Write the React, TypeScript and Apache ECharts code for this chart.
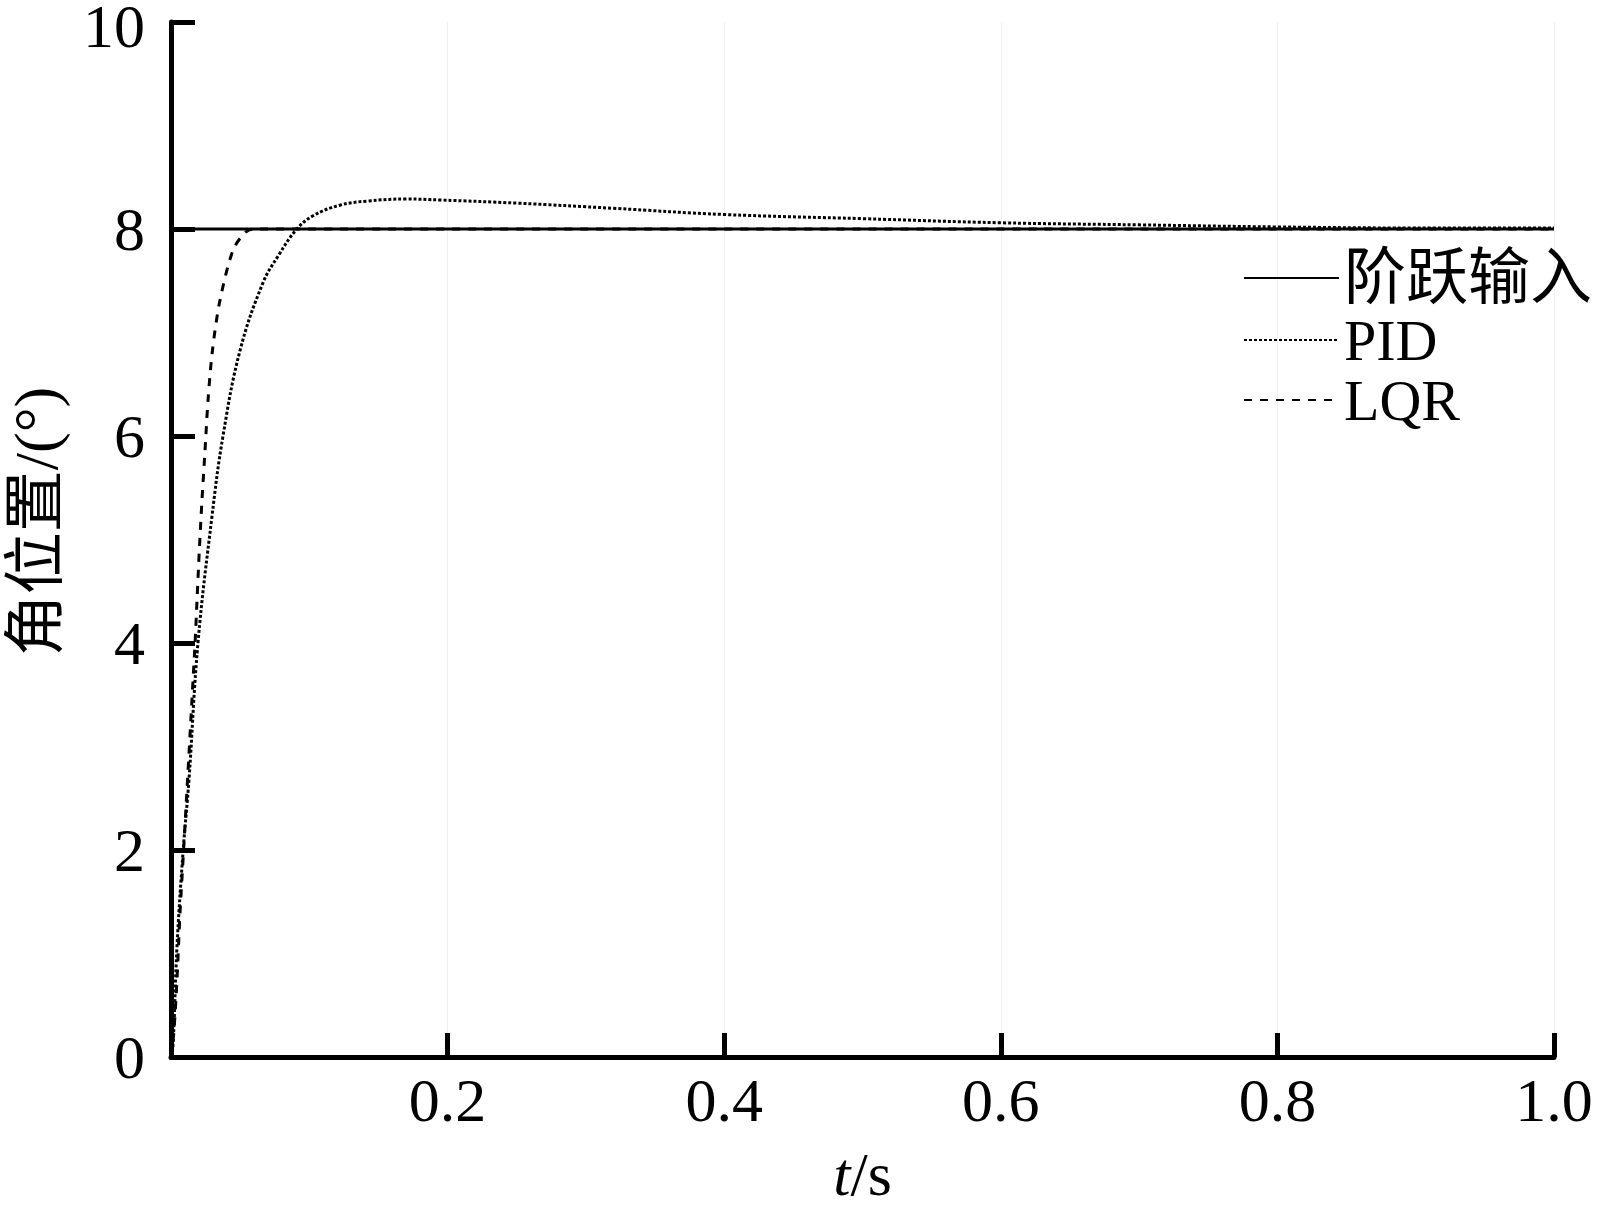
import React, { useEffect, useRef } from "react";
import * as echarts from "echarts";

const xTicks = [0, 0.2, 0.4, 0.6, 0.8, 1.0];
const yTicks = [0, 2, 4, 6, 8, 10];

const seriesNames = ["阶跃输入", "PID", "LQR"];

const stepT = [0, 1.0];
const stepV = [8, 8];

const pidT = [0, 0.0014, 0.0043, 0.0087, 0.013, 0.0195, 0.0296, 0.0376, 0.05, 0.0665, 0.078, 0.091, 0.103, 0.122, 0.142, 0.17, 0.195, 0.25, 0.32, 0.4, 0.5, 0.6, 0.7, 0.8, 0.9, 1.0];
const pidV = [0, 0.1, 1.06, 1.98, 2.68, 4.0, 5.22, 6.0, 6.83, 7.48, 7.75, 8.0, 8.13, 8.23, 8.27, 8.29, 8.28, 8.25, 8.2, 8.14, 8.1, 8.06, 8.04, 8.02, 8.01, 8.01];

const lqrT = [0, 0.002, 0.0043, 0.0065, 0.0087, 0.0174, 0.0188, 0.0205, 0.0224, 0.0246, 0.0268, 0.03, 0.0354, 0.045, 0.054, 0.06, 1.0];
const lqrV = [0, 0.23, 0.74, 1.39, 1.9, 4.0, 4.41, 4.9, 5.38, 5.86, 6.35, 6.83, 7.31, 7.8, 7.97, 8.0, 8.0];

const zip = (a: number[], b: number[]) => a.map((t, i) => [t, b[i]]);

const SERIF = '"Liberation Serif", "Times New Roman", "Noto Sans CJK SC", serif';

export default function App() {
  const ref = useRef<HTMLDivElement>(null);
  useEffect(() => {
    if (!ref.current) return;
    const chart = echarts.init(ref.current, null, { renderer: "svg" });
    const yMax = yTicks[yTicks.length - 1];
    chart.setOption({
      animation: false,
      backgroundColor: "#ffffff",
      grid: { left: 171, right: 53, top: 22, bottom: 156, containLabel: false, outerBoundsMode: "none" },
      legend: {
        orient: "vertical",
        left: 1243,
        top: 247,
        padding: 0,
        itemGap: 2,
        itemWidth: 95,
        itemHeight: 20,
        data: seriesNames,
        itemStyle: { opacity: 0 },
        formatter: (name: string) => (/[\u4e00-\u9fff]/.test(name) ? `{cjk|${name}}` : `{lat|${name}}`),
        textStyle: {
          color: "#000",
          rich: {
            cjk: { fontSize: 62, lineHeight: 60, fontFamily: SERIF, color: "#000" },
            lat: { fontSize: 58, lineHeight: 58, fontFamily: SERIF, color: "#000" },
          },
        },
      },
      xAxis: {
        type: "value",
        min: xTicks[0],
        max: xTicks[xTicks.length - 1],
        interval: 0.2,
        name: "{i|t}{n|/s}",
        nameLocation: "middle",
        nameGap: 86,
        nameTextStyle: {
          rich: {
            i: { fontSize: 62, fontStyle: "italic", fontFamily: SERIF, color: "#000" },
            n: { fontSize: 62, fontFamily: SERIF, color: "#000" },
          },
        },
        axisLine: { show: true, lineStyle: { color: "#000", width: 5 } },
        axisTick: { show: true, inside: true, length: 24, lineStyle: { color: "#000", width: 5 } },
        axisLabel: {
          showMinLabel: false,
          margin: 12,
          fontSize: 62,
          fontFamily: SERIF,
          color: "#000",
          formatter: (v: number) => v.toFixed(1),
        },
        splitLine: { show: true, lineStyle: { color: "#f1f1f1", width: 1 } },
      },
      yAxis: {
        type: "value",
        min: yTicks[0],
        max: yMax,
        interval: 2,
        name: "角位置/(°)",
        nameLocation: "middle",
        nameGap: 104,
        nameRotate: 90,
        nameTextStyle: { fontSize: 62, fontFamily: SERIF, color: "#000", padding: [0, 0, 0, 36] },
        axisLine: { show: true, lineStyle: { color: "#000", width: 5 } },
        axisTick: { show: true, inside: true, length: 24, lineStyle: { color: "#000", width: 5 } },
        axisLabel: {
          margin: 26,
          fontSize: 62,
          fontFamily: SERIF,
          color: "#000",
          formatter: (v: number) => (v === yMax ? `{top|${v}}` : `${v}`),
          rich: {
            top: { fontSize: 62, lineHeight: 40, fontFamily: SERIF, color: "#000", padding: [8, 0, 0, 0] },
          },
        },
        splitLine: { show: false },
      },
      series: [
        {
          name: seriesNames[0],
          type: "line",
          data: zip(stepT, stepV),
          symbol: "none",
          itemStyle: { color: "#000" },
          lineStyle: { color: "#000", width: 3, type: "solid" },
          z: 3,
        },
        {
          name: seriesNames[1],
          type: "line",
          data: zip(pidT, pidV),
          symbol: "none",
          smooth: 0.4,
          itemStyle: { color: "#000" },
          lineStyle: { color: "#000", width: 3, type: [3, 2] },
          z: 2,
        },
        {
          name: seriesNames[2],
          type: "line",
          data: zip(lqrT, lqrV),
          symbol: "none",
          smooth: 0.3,
          itemStyle: { color: "#000" },
          lineStyle: { color: "#000", width: 3, type: [8, 8] },
          z: 2,
        },
      ],
    });
    return () => chart.dispose();
  }, []);
  return (
    <div
      ref={ref}
      style={{ position: "fixed", left: 0, top: 0, width: 1607, height: 1213, background: "#fff" }}
    />
  );
}
